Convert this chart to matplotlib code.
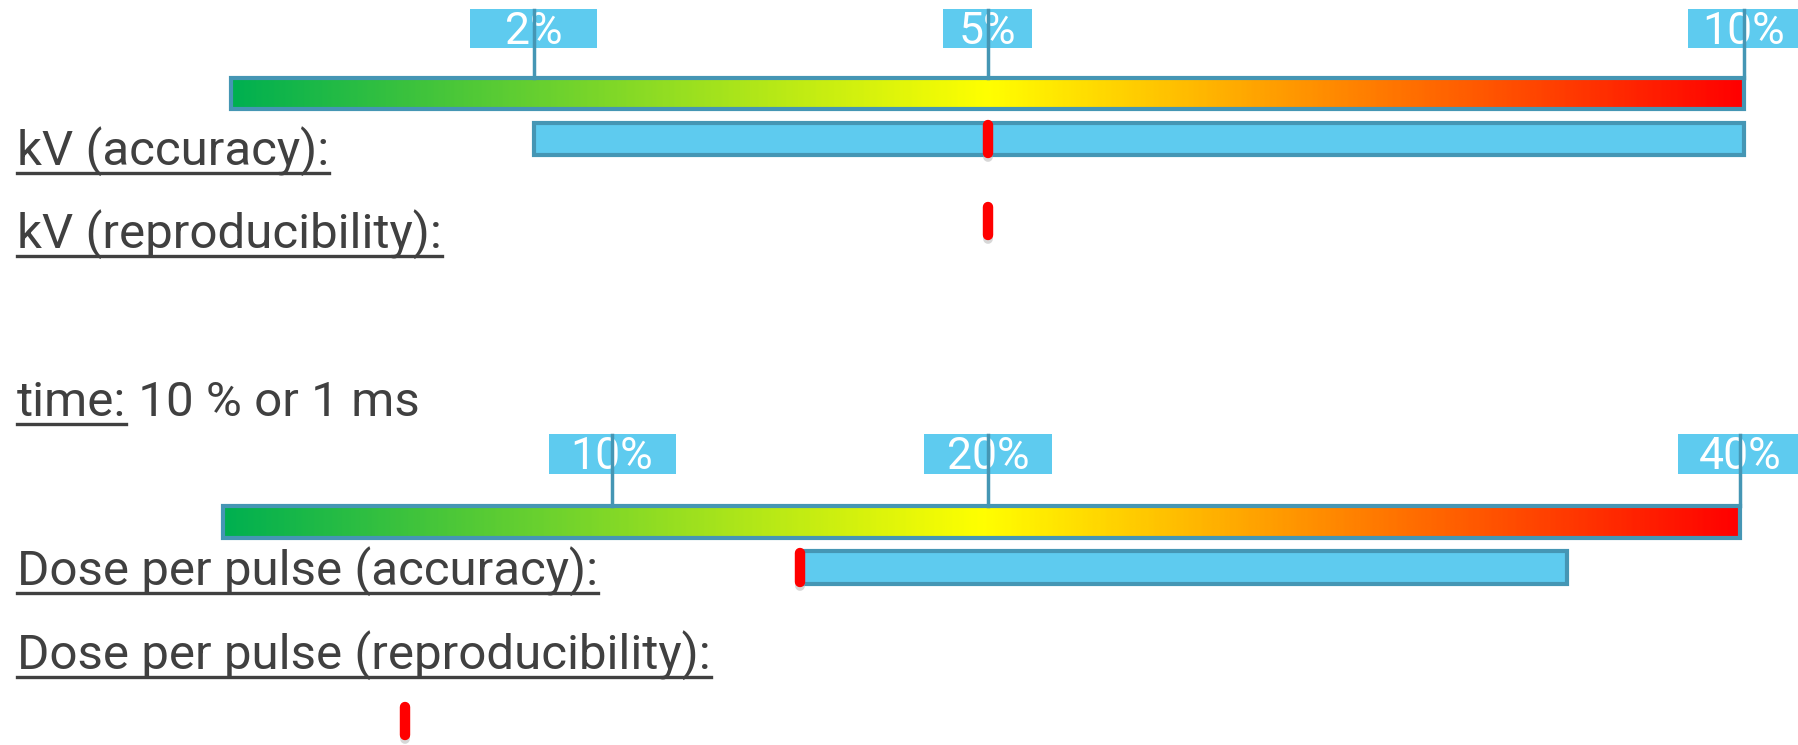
import numpy as np
import matplotlib.pyplot as plt
from matplotlib.colors import LinearSegmentedColormap
from matplotlib.patches import Rectangle

# kV panel data
kv_scale = [0, 10]
kv_ticks = [2, 5, 10]
kv_tick_labels = ['2%', '5%', '10%']
kv_accuracy_range = [2, 10]
kv_accuracy_value = 5
kv_reproducibility_value = 5

# Dose per pulse panel data
dose_scale = [-0.35, 40]
dose_ticks = [10, 20, 40]
dose_tick_labels = ['10%', '20%', '40%']
dose_accuracy_range = [15, 35.4]
dose_accuracy_value = 15
dose_reproducibility_value = 4.5

row_labels = ['kV (accuracy):', 'kV (reproducibility):',
              'Dose per pulse (accuracy):', 'Dose per pulse (reproducibility):']
time_label = 'time:'
time_value = ' 10 % or 1 ms'

# colours
EDGE = '#4596b4'
BLUE = '#5ecbef'
TEXT = '#404040'
grad_cmap = LinearSegmentedColormap.from_list('traffic', ['#00b050', '#ffff00', '#ff0000'])

W, H = 1798, 745
LABEL_FONT = ['Roboto', 'DejaVu Sans']
TICK_FONT = ['Roboto', 'DejaVu Sans']

fig = plt.figure(figsize=(W / 100, H / 100), dpi=100)
fig.patch.set_facecolor('white')


def draw_panel(zero_px, px_per_unit, scale, ticks, tick_labels, box_widths,
               acc_range, acc_value, rep_value, ys):
    """One scale panel; x in percent, y in pixels from the top."""
    ax = fig.add_axes([0, 0, 1, 1])
    ax.patch.set_visible(False)
    ax.axis('off')

    box_top, box_h, bar_top, bar_bot, acc_top, acc_bot, rep_top, rep_bot = ys

    # gradient scale bar
    grad = np.linspace(0, 1, 600)[None, :]
    ax.imshow(grad, cmap=grad_cmap, aspect='auto', interpolation='bilinear',
              extent=[scale[0], scale[1], bar_bot, bar_top], zorder=1)
    ax.add_patch(Rectangle((scale[0], bar_top), scale[1] - scale[0], bar_bot - bar_top,
                           fill=False, ec=EDGE, lw=3, zorder=2))

    # tick boxes and tick lines
    for t, lab, bw in zip(ticks, tick_labels, box_widths):
        box_w = bw / px_per_unit
        ax.add_patch(Rectangle((t - box_w / 2, box_top), box_w, box_h,
                               fc=BLUE, ec='none', zorder=2))
        ax.text(t, box_top + box_h / 2 + 3, lab, ha='center', va='center',
                color='white', fontsize=32, family=TICK_FONT, zorder=3)
        ax.plot([t, t], [box_top + 1, bar_top], color=EDGE, lw=2.5, zorder=4)

    # accuracy range bar
    ax.add_patch(Rectangle((acc_range[0], acc_top), acc_range[1] - acc_range[0],
                           acc_bot - acc_top, fc=BLUE, ec=EDGE, lw=3, zorder=2))

    # red markers (with a faint shadow)
    for v, y0, y1 in [(acc_value, acc_top - 3, acc_bot + 3), (rep_value, rep_top, rep_bot)]:
        ax.plot([v, v], [y0 + 8, y1 - 1], color='#b0b0b0', lw=7, alpha=0.5,
                solid_capstyle='round', zorder=4)
        ax.plot([v, v], [y0 + 5, y1 - 5], color='#ff0000', lw=7.5,
                solid_capstyle='round', zorder=5)

    ax.set_xlim(-zero_px / px_per_unit, (W - zero_px) / px_per_unit)
    ax.set_ylim(H, 0)
    return ax


draw_panel(231, 151.3, kv_scale, kv_ticks, kv_tick_labels, [127, 89, 112],
           kv_accuracy_range, kv_accuracy_value, kv_reproducibility_value,
           [9, 39, 78, 109, 123, 155, 202, 240])
draw_panel(236, 37.6, dose_scale, dose_ticks, dose_tick_labels, [127, 128, 124],
           dose_accuracy_range, dose_accuracy_value, dose_reproducibility_value,
           [434, 40, 506, 538, 551, 584, 702, 740])

# row labels, underlined
renderer = fig.canvas.get_renderer()


def underlined(x_px, base_px, s, underline=True):
    t = fig.text(x_px / W, 1 - base_px / H, s, ha='left', va='baseline',
                 fontsize=35.5, color=TEXT, family=LABEL_FONT)
    bb = t.get_window_extent(renderer)
    if underline:
        y = 1 - (base_px + 8) / H
        fig.add_artist(plt.Line2D([bb.x0 / W, bb.x1 / W], [y, y],
                                  color=TEXT, lw=2.4))
    return bb


for lab, base in zip(row_labels, [165, 248, 585, 669]):
    underlined(17, base, lab)

bb = underlined(17, 416, time_label)
underlined(bb.x1, 416, time_value, underline=False)

fig.savefig('out.png', dpi=100)
